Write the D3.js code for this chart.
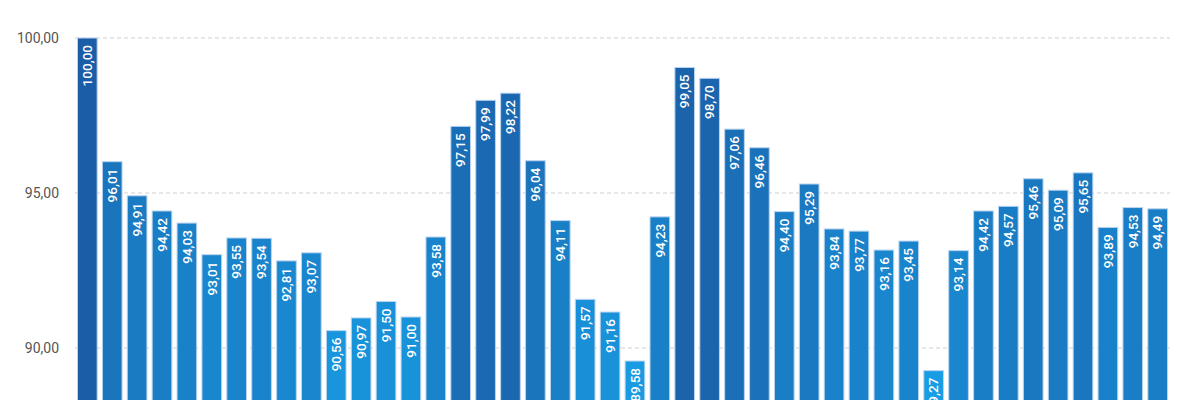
<!DOCTYPE html>
<html>
<head>
<meta charset="utf-8">
<script src="https://cdn.jsdelivr.net/npm/d3@7"></script>
<style>
  html, body { margin: 0; padding: 0; background: #fff; }
  svg { display: block; font-family: Roboto, "Noto Sans", sans-serif; }
</style>
</head>
<body>
<div id="chart"></div>
<script>
// ------------------------------------------------------------
// Data
// ------------------------------------------------------------
const values = [
    100.00, 96.01, 94.91, 94.42, 94.03, 93.01, 93.55, 93.54, 92.81, 93.07,
    90.56, 90.97, 91.50, 91.00, 93.58, 97.15, 97.99, 98.22, 96.04, 94.11,
    91.57, 91.16, 89.58, 94.23, 99.05, 98.70, 97.06, 96.46, 94.40, 95.29,
    93.84, 93.77, 93.16, 93.45, 89.27, 93.14, 94.42, 94.57, 95.46, 95.09,
    95.65, 93.89, 94.53, 94.49
];
const categories = values.map((d, i) => "P" + (i + 1));
const yTicks = [90, 95, 100];

// ------------------------------------------------------------
// Chart
// ------------------------------------------------------------
const width = 1200, height = 400;
const locale = d3.formatLocale({ decimal: ",", thousands: ".", grouping: [3], currency: ["", " €"] });
const fmt = locale.format(".2f");

const svg = d3.select("#chart")
    .append("svg")
    .attr("width", width)
    .attr("height", height);

const xScale = d3.scaleBand()
    .domain(categories)
    .range([75, 1170])
    .paddingInner(0.21)
    .paddingOuter(0.1);

// 100 sits at y=38, 90 at y=348
const yScale = d3.scaleLinear()
    .domain([85, 100])
    .range([503, 38]);

const color = d3.scaleLinear()
    .domain([d3.min(values), d3.max(values)])
    .range(["#189de4", "#1b5da6"])
    .interpolate(d3.interpolateRgb);

// Grid lines
svg.append("g")
    .selectAll("line")
    .data(yTicks)
    .enter()
    .append("line")
    .attr("x1", 75)
    .attr("x2", 1170)
    .attr("y1", d => yScale(d))
    .attr("y2", d => yScale(d))
    .attr("stroke", "#cfcfcf")
    .attr("stroke-dasharray", "4,3");

// Y axis labels
const yAxis = d3.axisLeft(yScale)
    .tickValues(yTicks)
    .tickFormat(fmt)
    .tickSize(0)
    .tickPadding(0);

svg.append("g")
    .attr("transform", "translate(59,0)")
    .call(yAxis)
    .call(g => g.select(".domain").remove())
    .call(g => g.selectAll("text")
        .attr("fill", "#555")
        .attr("font-size", "14px")
        .attr("font-family", "Roboto, sans-serif"));

// Bars
svg.append("g")
    .selectAll("rect")
    .data(values)
    .enter()
    .append("rect")
    .attr("x", (d, i) => xScale(categories[i]))
    .attr("y", d => yScale(d))
    .attr("width", xScale.bandwidth())
    .attr("height", d => yScale(85) - yScale(d))
    .attr("fill", d => color(d))
    .attr("stroke", "#b9d4f0")
    .attr("stroke-width", 1);

// Value labels inside the bar top, rotated
svg.append("g")
    .selectAll("text")
    .data(values)
    .enter()
    .append("text")
    .text(d => fmt(d))
    .attr("transform", (d, i) => {
        const cx = xScale(categories[i]) + xScale.bandwidth() / 2;
        return "translate(" + cx + "," + (yScale(d) + 7) + ") rotate(-90)";
    })
    .attr("text-anchor", "end")
    .attr("dy", "0.35em")
    .attr("fill", "#fff")
    .attr("font-size", "13.5px")
    .attr("font-weight", 500);
</script>
</body>
</html>
